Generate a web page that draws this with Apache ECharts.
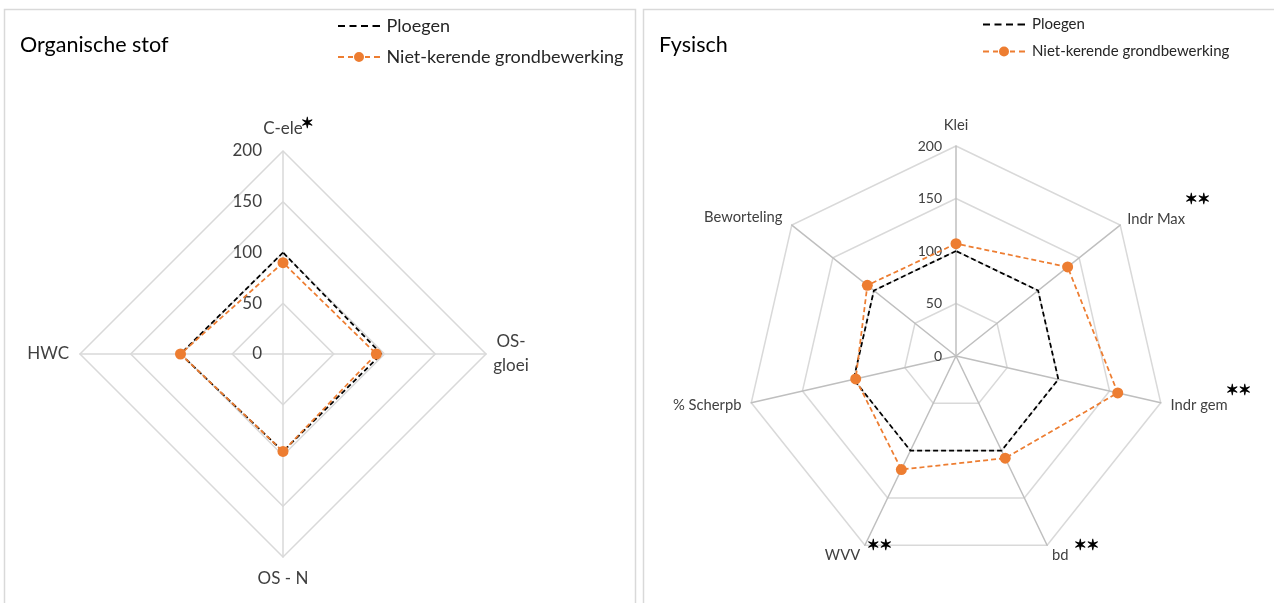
<!DOCTYPE html>
<html>
<head>
<meta charset="utf-8">
<script src="https://cdn.jsdelivr.net/npm/echarts@6/dist/echarts.min.js"></script>
<style>
  html, body { margin: 0; padding: 0; background: #ffffff; }
  #chart { width: 1274px; height: 603px; }
</style>
</head>
<body>
<div id="chart"></div>
<script>
// Series names shared by both panels
const seriesNames = ['Ploegen', 'Niet-kerende grondbewerking'];

// Panel 1: Organische stof (axes listed counterclockwise, starting at the top)
const orgAxes = ['C-ele', 'HWC', 'OS - N', 'OS-\ngloei'];
const orgPloegen = [100, 101, 96, 97];
const orgNietKerend = [90, 101, 96, 92];

// Panel 2: Fysisch (axes listed counterclockwise, starting at the top)
const fysAxes = ['Klei', 'Beworteling', '% Scherpb', 'WVV', 'bd', 'Indr gem', 'Indr Max'];
const fysPloegen = [100, 100, 100, 100, 100, 100, 100];
const fysNietKerend = [107, 108, 98, 120, 108, 158, 136];

// Radial scale
const axisMin = 0;
const axisMax = 200;
const axisSteps = 4;

const FONT = 'Lato, "Open Sans", sans-serif';
const ORANGE = '#ED7D31';
const GRID = '#d9d9d9';

// Distance between each axis end and its name
const orgNameGaps = [14, 11, 13, 6];
const fysNameGaps = [13, 12, 10, 11, 11, 10, 9];

// Legend icons: dashed line, and dashed line with a dot in the middle (42 x 14 box)
const iconPloegen = 'path://M0 0h0.01M0 6h7v2H0zM11.5 6h7v2h-7zM23 6h7v2h-7zM34.5 6h7.5v2h-7.5zM42 14h-0.01';
const iconNiet = 'path://M0 0h0.01M0 6h6v2H0zM10 6h5v2h-5zM16 7a5 5 0 1 0 10 0a5 5 0 1 0 -10 0zM27 6h5v2h-5zM36 6h6v2h-6zM42 14h-0.01';

function indicators(names, gaps, labelFont, labelMargin) {
  return names.map(function (n, i) {
    const ind = { name: n, min: axisMin, max: axisMax, nameGap: gaps[i] };
    ind.axisLabel = i === 0
      ? { show: true, color: '#404040', fontFamily: FONT, fontSize: labelFont, margin: labelMargin }
      : { show: false };
    return ind;
  });
}

function radarSeries(radarIndex, ploegen, niet) {
  return [
    {
      type: 'radar', radarIndex: radarIndex, name: seriesNames[0],
      symbol: 'none',
      lineStyle: { color: '#000000', type: [5, 3], width: 1.75 },
      itemStyle: { color: '#000000' },
      data: [{ value: ploegen, name: seriesNames[0] }],
      z: 2
    },
    {
      type: 'radar', radarIndex: radarIndex, name: seriesNames[1],
      symbol: 'circle', symbolSize: 11,
      lineStyle: { color: ORANGE, type: [5, 3], width: 1.75 },
      itemStyle: { color: ORANGE },
      data: [{ value: niet, name: seriesNames[1] }],
      z: 3
    }
  ];
}

// Significance markers next to the axis names
function star(text, x, y, size) {
  return {
    type: 'text', x: x, y: y, silent: true, z: 100,
    style: {
      text: text, fill: '#000000', stroke: '#000000', lineWidth: 0.8,
      font: 'bold ' + size + 'px "DejaVu Sans"', textAlign: 'left', textVerticalAlign: 'middle'
    }
  };
}

const chart = echarts.init(document.getElementById('chart'), null, { renderer: 'canvas' });

chart.setOption({
  animation: false,
  backgroundColor: '#ffffff',
  title: [
    { text: 'Organische stof', left: 20, top: 34, padding: 0,
      textStyle: { fontFamily: FONT, fontSize: 21.5, fontWeight: 'normal', color: '#000000' } },
    { text: 'Fysisch', left: 659, top: 34, padding: 0,
      textStyle: { fontFamily: FONT, fontSize: 21.5, fontWeight: 'normal', color: '#000000' } }
  ],
  legend: [
    {
      left: 338, top: 17, orient: 'vertical', padding: 0,
      itemWidth: 45, itemHeight: 14, itemGap: 13, selectedMode: false,
      itemStyle: { borderWidth: 0 },
      textStyle: { fontFamily: FONT, fontSize: 18, color: '#262626' },
      data: [{ name: seriesNames[0], icon: iconPloegen }, { name: seriesNames[1], icon: iconNiet }]
    },
    {
      left: 983, top: 17, orient: 'vertical', padding: 0,
      itemWidth: 46, itemHeight: 14, itemGap: 12, selectedMode: false,
      itemStyle: { borderWidth: 0 },
      textStyle: { fontFamily: FONT, fontSize: 15, color: '#262626' },
      data: [{ name: seriesNames[0], icon: iconPloegen }, { name: seriesNames[1], icon: iconNiet }]
    }
  ],
  radar: [
    {
      center: [283, 354], radius: 203, startAngle: 90, shape: 'polygon', splitNumber: axisSteps,
      indicator: indicators(orgAxes, orgNameGaps, 17, 21),
      axisName: {
        color: '#404040', fontFamily: FONT, fontSize: 17,
        formatter: function (name) {
          if (name.indexOf('\n') < 0) { return name; }
          return name.split('\n').map(function (part) { return '{c|' + part + '}'; }).join('\n');
        },
        rich: { c: { align: 'center', width: 38, lineHeight: 24, fontFamily: FONT, fontSize: 17, color: '#404040' } }
      },
      splitLine: { lineStyle: { color: GRID, width: 1.5 } },
      splitArea: { show: false },
      axisLine: { lineStyle: { color: GRID, width: 1.5 } },
      axisTick: { show: false },
      axisLabel: { show: false }
    },
    {
      center: [956, 356], radius: 210, startAngle: 90, shape: 'polygon', splitNumber: axisSteps,
      indicator: indicators(fysAxes, fysNameGaps, 14, 14),
      axisName: { color: '#404040', fontFamily: FONT, fontSize: 14.75 },
      splitLine: { lineStyle: { color: GRID, width: 1.5 } },
      splitArea: { show: false },
      axisLine: { lineStyle: { color: '#bfbfbf', width: 1.5 } },
      axisTick: { show: false },
      axisLabel: { show: false }
    }
  ],
  series: radarSeries(0, orgPloegen, orgNietKerend).concat(radarSeries(1, fysPloegen, fysNietKerend)),
  graphic: [
    { type: 'rect', silent: true, z: -10,
      shape: { x: 4.5, y: 9.5, width: 631, height: 610 },
      style: { fill: 'none', stroke: GRID, lineWidth: 1.5 } },
    { type: 'rect', silent: true, z: -10,
      shape: { x: 643.5, y: 9.5, width: 640, height: 610 },
      style: { fill: 'none', stroke: GRID, lineWidth: 1.5 } },
    star('\u2736', 301, 124, 15),
    star('\u2736\u2736', 1185, 200, 15),
    star('\u2736\u2736', 1226, 391, 15),
    star('\u2736\u2736', 867, 546, 15),
    star('\u2736\u2736', 1074, 546, 15)
  ]
});
</script>
</body>
</html>
